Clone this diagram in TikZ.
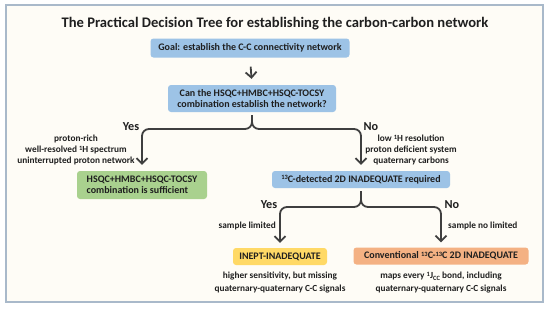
\documentclass[tikz,border=0pt]{standalone}
\usepackage{fontspec}
\setmainfont{Carlito}
\usetikzlibrary{arrows.meta}
\definecolor{bgC}{HTML}{FEFCF6}
\definecolor{frameC}{HTML}{A9B9CA}
\definecolor{blueC}{HTML}{9DC3E6}
\definecolor{greenC}{HTML}{A9D18E}
\definecolor{yellowC}{HTML}{FFD966}
\definecolor{orangeC}{HTML}{F4B183}
\definecolor{inkC}{HTML}{1F1F1F}
\definecolor{arrC}{HTML}{3F3F3F}
\newcommand{\supr}[1]{\raisebox{0.55ex}{\fontsize{6.5}{7}\selectfont #1}}
\newcommand{\subr}[1]{\raisebox{-0.3ex}{\fontsize{6.5}{7}\selectfont #1}}
\tikzset{
  box/.style={rounded corners=3pt, inner sep=0pt, align=center, text=inkC,
    font=\fontsize{10}{11.5}\selectfont\bfseries},
  small/.style={align=center, text=inkC, inner sep=0pt,
    font=\fontsize{9.3}{11}\selectfont\bfseries},
  yn/.style={text=inkC, inner sep=0pt, font=\fontsize{12.2}{13}\selectfont\bfseries},
  arw/.style={draw=arrC, line width=1.8pt, rounded corners=7pt,
    -{Straight Barb[length=5.5pt,width=11pt]}},
}
\begin{document}
\begin{tikzpicture}[x=1pt,y=-1pt]
\useasboundingbox (0,0) rectangle (550,309);
\draw[draw=frameC, line width=1.5pt, fill=bgC] (6,5) rectangle (543,302);
\node[text=inkC, font=\fontsize{14.6}{16}\selectfont\bfseries] (title) at (275,23.5)
  {The Practical Decision Tree for establishing the carbon-carbon network};
% boxes
\node[box, fill=blueC, minimum width=199pt, minimum height=19pt] (goal) at (250,48)
  {Goal: establish the C-C connectivity network};
\node[box, fill=blueC, minimum width=168pt, minimum height=27pt] (q1) at (252,98.5)
  {Can the HSQC+HMBC+HSQC-TOCSY\\combination establish the network?};
\node[box, fill=greenC, minimum width=130pt, minimum height=28pt, align=left] (suff) at (142,185)
  {HSQC+HMBC+HSQC-TOCSY\\combination is sufficient};
\node[box, fill=blueC, minimum width=178pt, minimum height=17pt] (q2) at (361,179.5)
  {\supr{13}C-detected 2D INADEQUATE required};
\node[box, fill=yellowC, minimum width=94pt, minimum height=17pt] (inept) at (280,256.5)
  {INEPT-INADEQUATE};
\node[box, fill=orangeC, minimum width=175pt, minimum height=17pt] (conv) at (441,256)
  {Conventional \supr{13}C-\supr{13}C 2D INADEQUATE};
% brace coordinates
\coordinate (h1) at (252,129);
\coordinate (h2) at (361,207);
% arrows
\draw[arw, shorten <=9pt, shorten >=6pt] (goal.south) -- (q1.north);
\draw[arw, shorten <=3pt, shorten >=6pt] (q1.south) -- (h1) -- (h1 -| suff.north) -- (suff.north);
\draw[arw, shorten <=3pt, shorten >=6pt] (q1.south) -- (h1) -- (h1 -| q2.north) -- (q2.north);
\draw[arw, shorten <=3pt, shorten >=5pt] (q2.south) -- (h2) -- (h2 -| inept.north) -- (inept.north);
\draw[arw, shorten <=3pt, shorten >=5pt] (q2.south) -- (h2) -- (h2 -| conv.north) -- (conv.north);
% labels
\node[yn] (yes1) at (131,127) {Yes};
\node[yn] (no1) at (371,127) {No};
\node[yn] (yes2) at (269,205) {Yes};
\node[yn] (no2) at (452,205) {No};
\node[small] (cond1) at (76,150)
  {proton-rich\\well-resolved \supr{1}H spectrum\\uninterrupted proton network};
\node[small] (cond2) at (411,150)
  {low \supr{1}H resolution\\proton deficient system\\quaternary carbons};
\node[small, anchor=east] (sl) at (276,226) {sample limited};
\node[small, anchor=west] (snl) at (448,226) {sample no limited};
\node[small, font=\fontsize{9.3}{12.7}\selectfont\bfseries] (d1) at (280,282.5)
  {higher sensitivity, but missing\\quaternary-quaternary C-C signals};
\node[small, font=\fontsize{9.3}{12.7}\selectfont\bfseries] (d2) at (441,282.5)
  {maps every \supr{1}J\subr{CC} bond, including\\quaternary-quaternary C-C signals};
\end{tikzpicture}
\end{document}
